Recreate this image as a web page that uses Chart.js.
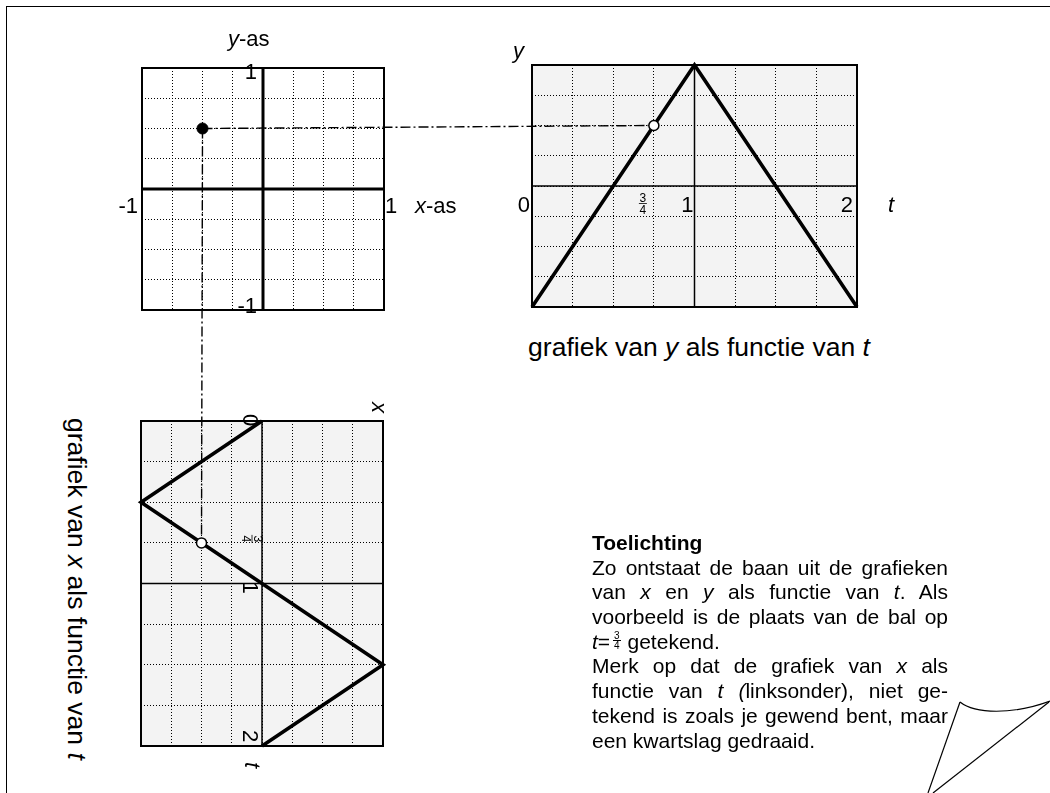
<!DOCTYPE html>
<html lang="nl"><head><meta charset="utf-8"><title>Baan uit de grafieken</title>
<script src="https://cdn.jsdelivr.net/npm/chart.js@4.4.1/dist/chart.umd.min.js"></script>
<style>
html,body{margin:0;padding:0;background:#fff;overflow:hidden;}
#page{position:relative;width:1050px;height:793px;overflow:hidden;font-family:"Liberation Sans",Arial,sans-serif;color:#000;background:#fff;}
#frame{position:absolute;left:6px;top:6px;width:1200px;height:900px;border-left:1.5px solid #000;border-top:1.5px solid #000;}
#page canvas{position:absolute;}
#links{left:0;top:0;pointer-events:none;}
#deco{position:absolute;left:0;top:0;}
#note{position:absolute;left:592px;top:531px;width:356px;font-size:21px;line-height:24.7px;}
#note div{height:24.7px;}
#note .j{text-align:justify;text-align-last:justify;}
.frac{display:inline-block;font-size:10px;line-height:9px;text-align:center;margin:0 1px 0 3px;}
.frac span{display:block;padding:0 1px;}
.frac .n{border-bottom:0.8px solid #000;}
</style></head>
<body><div id="page">
<div id="frame"></div>
<svg id="deco" width="1050" height="793" xmlns="http://www.w3.org/2000/svg" font-family="Liberation Sans, Arial, sans-serif">
  <text x="699" y="356" text-anchor="middle" font-size="26.5">grafiek van <tspan font-style="italic">y</tspan> als functie van <tspan font-style="italic">t</tspan></text>
  <text transform="translate(68,418) rotate(90)" font-size="26.5">grafiek van <tspan font-style="italic">x</tspan> als functie van <tspan font-style="italic">t</tspan></text>
  <g fill="none" stroke="#000" stroke-width="1.2">
    <path d="M960,702 C975,714 1012,715 1050,701"/>
    <path d="M960,702 L928,793"/>
    <path d="M1049,702 L933,793"/>
  </g>
</svg>
<canvas id="cA"></canvas><canvas id="cB"></canvas><canvas id="cC"></canvas>
<canvas id="links" width="1050" height="793"></canvas>
<div id="note">
<div><b>Toelichting</b></div>
<div class="j">Zo ontstaat de baan uit de grafieken</div>
<div class="j">van <i>x</i> en <i>y</i> als functie van <i>t</i>. Als</div>
<div class="j">voorbeeld is de plaats van de bal op</div>
<div><i>t</i>=<span class="frac"><span class="n">3</span><span>4</span></span> getekend.</div>
<div class="j">Merk op dat de grafiek van <i>x</i> als</div>
<div class="j">functie van <i>t</i> <i>(</i>linksonder), niet ge-</div>
<div class="j">tekend is zoals je gewend bent, maar</div>
<div>een kwartslag gedraaid.</div>
</div>
</div>
<script>
// ---- data ----
const T_KNOTS = [0, 0.5, 1, 1.5, 2];
const X_OF_T = [0, -1, 0, 1, 0];
const Y_OF_T = [-1, 0, 1, 0, -1];
const SAMPLE_T = [0.75];
const SAMPLE_X = [-0.5];
const SAMPLE_Y = [0.5];
const XY_LIMITS = [-1, 1];
const T_LIMITS = [0, 2];
const GRID_STEP = 0.25;
const XY_TICK_LABELS = ['-1', '1'];
const T_TICK_VALUES = [0, 1, 2];
const T_TICK_LABELS = ['0', '1', '2'];
const SAMPLE_T_LABEL = ['3', '4'];
const AXIS_NAMES = ['x', 'y', 't'];

const FONT = '"Liberation Sans", Arial, sans-serif';

function txt(ctx, s, x, y, o) {
  o = o || {};
  ctx.font = (o.italic ? 'italic ' : '') + (o.size || 22) + 'px ' + FONT;
  ctx.textAlign = o.align || 'left';
  ctx.textBaseline = 'alphabetic';
  ctx.fillStyle = '#000';
  ctx.fillText(s, x, y);
  return ctx.measureText(s).width;
}
function rtxt(ctx, s, x, y, o) {
  ctx.save(); ctx.translate(x, y); ctx.rotate(Math.PI / 2);
  txt(ctx, s, 0, 0, o); ctx.restore();
}
function frac(ctx, cx, barY) {
  ctx.save();
  txt(ctx, SAMPLE_T_LABEL[0], cx, barY - 1.5, {align: 'center', size: 12});
  txt(ctx, SAMPLE_T_LABEL[1], cx, barY + 10, {align: 'center', size: 12});
  ctx.strokeStyle = '#000'; ctx.lineWidth = 0.8;
  ctx.beginPath(); ctx.moveTo(cx - 4, barY); ctx.lineTo(cx + 4, barY); ctx.stroke();
  ctx.restore();
}
function seg(ctx, x1, y1, x2, y2) { ctx.beginPath(); ctx.moveTo(x1, y1); ctx.lineTo(x2, y2); ctx.stroke(); }
function box(c, w, fill) {
  const a = c.chartArea, ctx = c.ctx;
  ctx.save();
  if (fill) { ctx.fillStyle = fill; ctx.fillRect(a.left, a.top, a.right - a.left, a.bottom - a.top); }
  else { ctx.strokeStyle = '#000'; ctx.lineWidth = w; ctx.strokeRect(a.left, a.top, a.right - a.left, a.bottom - a.top); }
  ctx.restore();
}
function axisLines(c, xv, yv, w) {
  const ctx = c.ctx, sx = c.scales.x, sy = c.scales.y, a = c.chartArea;
  ctx.save(); ctx.strokeStyle = '#000'; ctx.lineWidth = w;
  const px = sx.getPixelForValue(xv), py = sy.getPixelForValue(yv);
  seg(ctx, a.left, py, a.right, py);
  seg(ctx, px, a.top, px, a.bottom);
  ctx.restore();
}

function scale(lim, reverse) {
  return {
    type: 'linear', min: lim[0], max: lim[1], reverse: !!reverse,
    ticks: {display: false, stepSize: GRID_STEP},
    grid: {color: '#000', lineWidth: 1, drawTicks: false},
    border: {display: false, dash: [1, 2]}
  };
}
function lineDs(points) {
  return {data: points, showLine: true, borderColor: '#000', borderWidth: 3.6, pointRadius: 0,
    borderJoinStyle: 'miter', borderCapStyle: 'butt', clip: false, order: 1};
}
function markerDs(points, filled) {
  return {data: points, showLine: false, pointRadius: filled ? 5.5 : 5,
    pointBackgroundColor: filled ? '#000' : '#fff', pointBorderColor: '#000',
    pointBorderWidth: filled ? 1 : 1.5, clip: false, order: 0};
}
function makeChart(id, place, datasets, xLim, yLim, yReverse, plugin) {
  const cv = document.getElementById(id);
  cv.width = place.w; cv.height = place.h;
  cv.style.left = place.left + 'px'; cv.style.top = place.top + 'px';
  return new Chart(cv, {
    type: 'scatter',
    data: {datasets: datasets},
    options: {
      responsive: false, maintainAspectRatio: false, animation: false, devicePixelRatio: 1, events: [],
      layout: {padding: place.pad},
      plugins: {legend: {display: false}, tooltip: {enabled: false}},
      scales: {x: scale(xLim), y: scale(yLim, yReverse)}
    },
    plugins: [plugin]
  });
}

// ---- chart A: the path plane (x-as, y-as) ----
const chartA = makeChart('cA',
  {left: 112, top: 28, w: 357, h: 297, pad: {left: 30, right: 85, top: 40, bottom: 15}},
  [markerDs(SAMPLE_X.map((x, i) => ({x: x, y: SAMPLE_Y[i]})), true)],
  XY_LIMITS, XY_LIMITS, false,
  {
    id: 'planeA',
    beforeDatasetsDraw(c) { axisLines(c, 0, 0, 3); },
    afterDatasetsDraw(c) { box(c, 2); },
    afterDraw(c) {
      const ctx = c.ctx, sx = c.scales.x, sy = c.scales.y, a = c.chartArea;
      const x0 = sx.getPixelForValue(0), y0 = sy.getPixelForValue(0);
      let w = txt(ctx, AXIS_NAMES[1], x0 - 35, a.top - 22, {italic: true});
      txt(ctx, '-as', x0 - 35 + w, a.top - 22);
      txt(ctx, XY_TICK_LABELS[1], x0 - 6, sy.getPixelForValue(XY_LIMITS[1]) + 11, {align: 'right'});
      txt(ctx, XY_TICK_LABELS[0], x0 - 6, sy.getPixelForValue(XY_LIMITS[0]) + 3, {align: 'right'});
      txt(ctx, XY_TICK_LABELS[0], sx.getPixelForValue(XY_LIMITS[0]) - 4, y0 + 24, {align: 'right'});
      txt(ctx, XY_TICK_LABELS[1], sx.getPixelForValue(XY_LIMITS[1]) + 1, y0 + 24);
      w = txt(ctx, AXIS_NAMES[0], sx.getPixelForValue(XY_LIMITS[1]) + 31, y0 + 24, {italic: true});
      txt(ctx, '-as', sx.getPixelForValue(XY_LIMITS[1]) + 31 + w, y0 + 24);
    }
  });

// ---- chart B: y as function of t ----
const chartB = makeChart('cB',
  {left: 507, top: 40, w: 395, h: 282, pad: {left: 25, right: 45, top: 25, bottom: 15}},
  [markerDs(SAMPLE_T.map((t, i) => ({x: t, y: SAMPLE_Y[i]})), false),
   lineDs(T_KNOTS.map((t, i) => ({x: t, y: Y_OF_T[i]})))],
  T_LIMITS, XY_LIMITS, false,
  {
    id: 'graphB',
    beforeDraw(c) { box(c, 0, '#f3f3f3'); },
    beforeDatasetsDraw(c) { axisLines(c, 1, 0, 1.5); },
    afterDatasetsDraw(c) { box(c, 2); },
    afterDraw(c) {
      const ctx = c.ctx, sx = c.scales.x, sy = c.scales.y, a = c.chartArea;
      const y0 = sy.getPixelForValue(0);
      txt(ctx, AXIS_NAMES[1], sx.getPixelForValue(T_LIMITS[0]) - 19, a.top - 7, {italic: true});
      const off = [-2, -1, -4];
      T_TICK_VALUES.forEach((v, i) => txt(ctx, T_TICK_LABELS[i], sx.getPixelForValue(v) + off[i], y0 + 26, {align: 'right'}));
      txt(ctx, AXIS_NAMES[2], sx.getPixelForValue(T_LIMITS[1]) + 31, y0 + 26, {italic: true});
      frac(ctx, sx.getPixelForValue(SAMPLE_T[0]) - 11, y0 + 17.5);
    }
  });

// ---- chart C: x as function of t, turned a quarter ----
const chartC = makeChart('cC',
  {left: 131, top: 391, w: 262, h: 390, pad: {left: 10, right: 10, top: 30, bottom: 35}},
  [markerDs(SAMPLE_T.map((t, i) => ({x: SAMPLE_X[i], y: t})), false),
   lineDs(T_KNOTS.map((t, i) => ({x: X_OF_T[i], y: t})))],
  XY_LIMITS, T_LIMITS, true,
  {
    id: 'graphC',
    beforeDraw(c) { box(c, 0, '#f3f3f3'); },
    beforeDatasetsDraw(c) { axisLines(c, 0, 1, 1.5); },
    afterDatasetsDraw(c) { box(c, 2); },
    afterDraw(c) {
      const ctx = c.ctx, sx = c.scales.x, sy = c.scales.y;
      const x0 = sx.getPixelForValue(0);
      const off = [-7, -2, -16];
      T_TICK_VALUES.forEach((v, i) => rtxt(ctx, T_TICK_LABELS[i], x0 - 19, sy.getPixelForValue(v) + off[i]));
      rtxt(ctx, AXIS_NAMES[2], x0 - 17, sy.getPixelForValue(T_LIMITS[1]) + 16, {italic: true});
      rtxt(ctx, AXIS_NAMES[0], sx.getPixelForValue(XY_LIMITS[1]) - 11, sy.getPixelForValue(T_LIMITS[0]) - 19, {italic: true});
      ctx.save();
      ctx.translate(x0 - 10, sy.getPixelForValue(SAMPLE_T[0]) - 4);
      ctx.rotate(Math.PI / 2);
      frac(ctx, 0, 0);
      ctx.restore();
    }
  });

// ---- dash-dot connectors between the three graphs ----
function pagePoint(chart, vx, vy) {
  return [chart.canvas.offsetLeft + chart.scales.x.getPixelForValue(vx),
          chart.canvas.offsetTop + chart.scales.y.getPixelForValue(vy)];
}
const lctx = document.getElementById('links').getContext('2d');
lctx.strokeStyle = '#000'; lctx.lineWidth = 1.4; lctx.setLineDash([10, 3, 2, 3]);
function link(p, q, r) {
  const dx = q[0] - p[0], dy = q[1] - p[1], L = Math.hypot(dx, dy);
  lctx.beginPath(); lctx.moveTo(p[0], p[1]);
  lctx.lineTo(q[0] - dx / L * r, q[1] - dy / L * r); lctx.stroke();
}
const pA = pagePoint(chartA, SAMPLE_X[0], SAMPLE_Y[0]);
link(pA, pagePoint(chartB, SAMPLE_T[0], SAMPLE_Y[0]), 5.5);
link(pA, pagePoint(chartC, SAMPLE_X[0], SAMPLE_T[0]), 5.5);
</script>
</body></html>
